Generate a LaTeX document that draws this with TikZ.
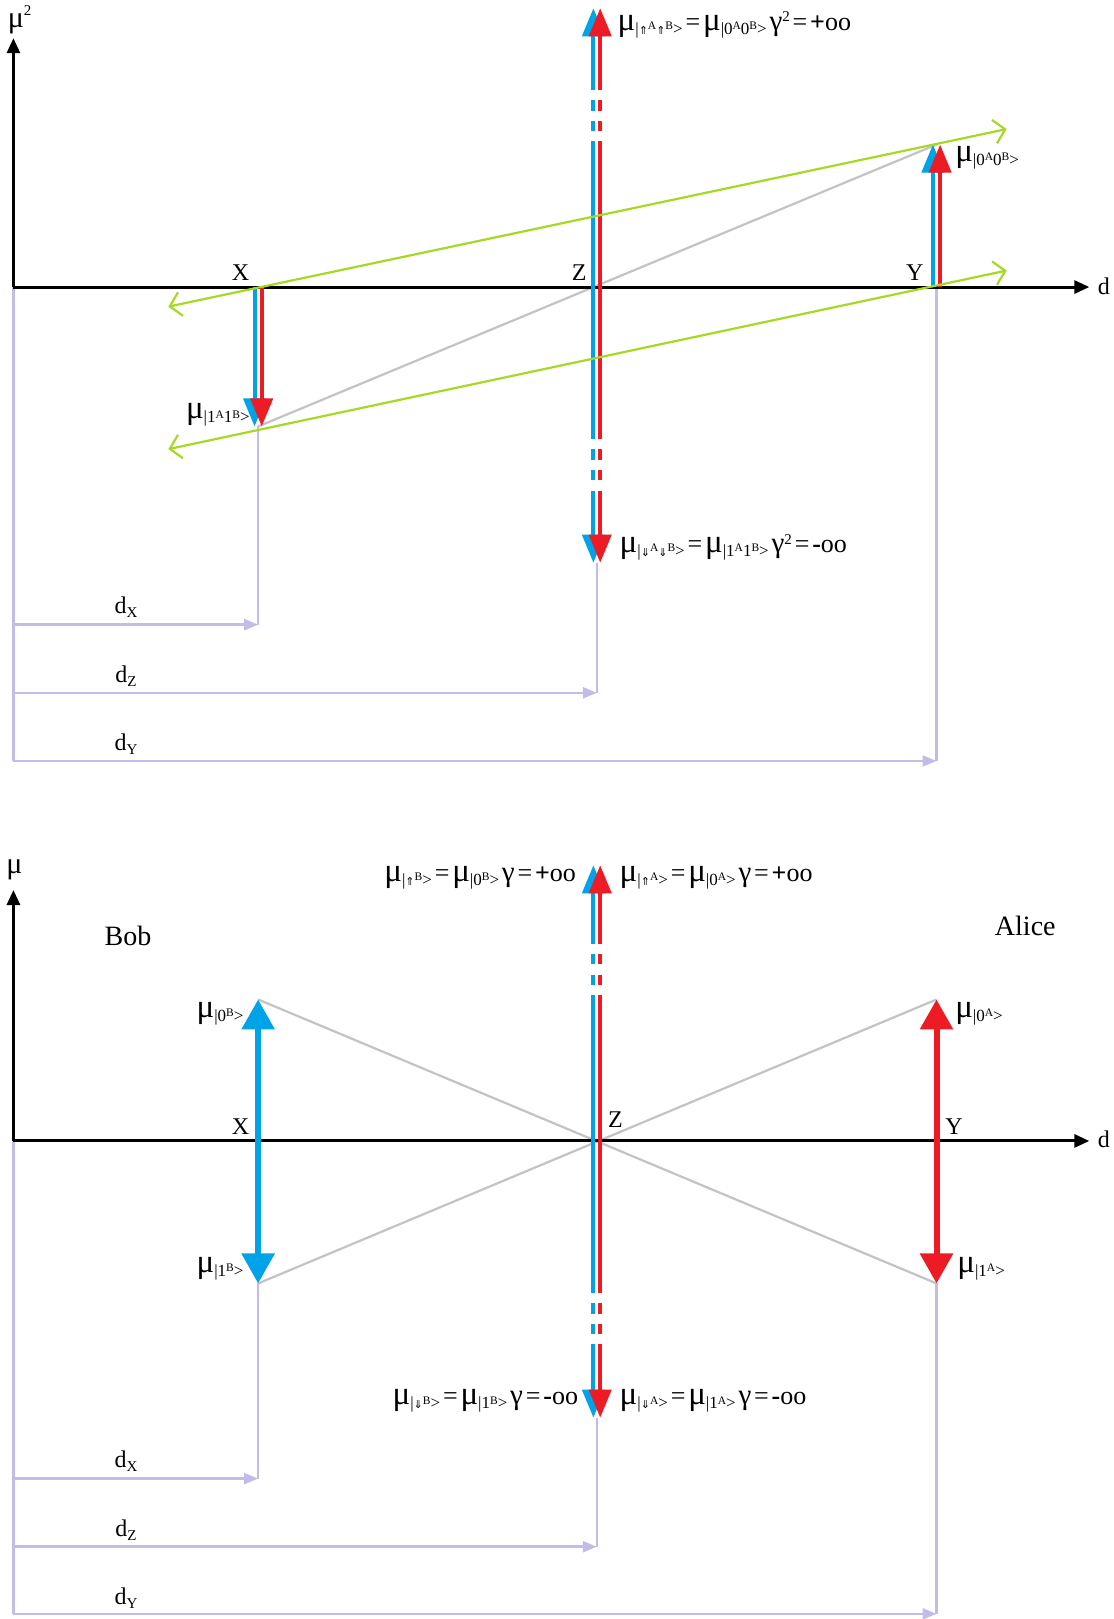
\documentclass[tikz,border=0pt]{standalone}
\usepackage{fontspec}
\setmainfont{Liberation Serif}
\newfontfamily\arrowfont{DejaVu Sans}
\usetikzlibrary{arrows.meta}
\definecolor{cblue}{RGB}{0,162,232}
\definecolor{cred}{RGB}{237,28,36}
\definecolor{cgreen}{RGB}{166,216,36}
\definecolor{cgray}{RGB}{195,195,195}
\definecolor{clav}{RGB}{196,188,232}
\newcommand{\mmu}{{\fontsize{33}{33}\selectfont μ}}
\newcommand{\sbs}[1]{\raisebox{-0.5ex}{\fontsize{17}{17}\selectfont #1}}
\newcommand{\ssp}[1]{\raisebox{0.6ex}{\fontsize{11.5}{11.5}\selectfont #1}}
\newcommand{\bsp}[1]{\raisebox{1.1ex}{\fontsize{15}{15}\selectfont #1}}
\newcommand{\UA}{{\arrowfont\fontsize{11}{11}\selectfont ⇑}}
\newcommand{\DA}{{\arrowfont\fontsize{11}{11}\selectfont ⇓}}
\newcommand{\eqs}{\,{\fontsize{26}{26}\selectfont =}\,}
\newcommand{\gam}{{\fontsize{29}{29}\selectfont γ}}
\newcommand{\myinf}[1]{{\fontsize{26}{26}\selectfont\textbf{#1}oo}}
\begin{document}
\begin{tikzpicture}[x=1.0325pt,y=-1.0325pt,
  axisarr/.style={black,line width=3pt,-{Triangle[width=13pt,length=15pt]}},
  bluearr/.style={cblue,line width=4pt,-{Triangle[width=22pt,length=28pt]}},
  redarr/.style={cred,line width=4pt,-{Triangle[width=22pt,length=28pt]}},
  bluebig/.style={cblue,line width=6pt,{Triangle[width=32pt,length=30pt]}-{Triangle[width=32pt,length=30pt]}},
  redbig/.style={cred,line width=6pt,{Triangle[width=32pt,length=30pt]}-{Triangle[width=32pt,length=30pt]}},
  greenarr/.style={cgreen,line width=2.2pt,{Straight Barb[length=11pt,width=24pt]}-{Straight Barb[length=11pt,width=24pt]}},
  grayline/.style={cgray,line width=2.2pt},
  lavline/.style={clav,line width=2.5pt},
  lavarr/.style={clav,line width=2.5pt,-{Triangle[width=11pt,length=14pt]}},
  zup/.style={dash pattern=on 145.6pt off 10.3pt on 10.3pt off 10.3pt on 10.3pt off 10.3pt on 400pt},
  zdown/.style={dash pattern=on 152pt off 10.3pt on 10.3pt off 10.3pt on 10.3pt off 10.3pt on 400pt},
  lbl/.style={inner sep=0pt,font=\fontsize{24}{24}\selectfont},
  mlbl/.style={inner sep=0pt,font=\fontsize{17}{17}\selectfont}
]
\useasboundingbox (0,0) rectangle (1078,1568);

% ================= TOP DIAGRAM =================
\coordinate (O1) at (13,278);
\coordinate (YT1) at (13,37);
\coordinate (XT1) at (1055,278);
\coordinate (X1) at (250,278);
\coordinate (Z1) at (578,278);
\coordinate (Y1) at (907,278);
\coordinate (Xlow) at (250,413);
\coordinate (Yup) at (907,140);
\coordinate (Ztop) at (578,8);
\coordinate (Zbot) at (578,545);
\coordinate (dX1) at (250,605);
\coordinate (dZ1) at (578,671);
\coordinate (dY1) at (907,737);
\coordinate (dX1s) at (13,605);
\coordinate (dZ1s) at (13,671);
\coordinate (dY1s) at (13,737);
\coordinate (GUl) at (163,297);
\coordinate (GUr) at (975,125);
\coordinate (GLl) at (163,435);
\coordinate (GLr) at (975,262);

% lavender guides
\draw[lavline] (O1) -- (dY1s);
\draw[lavline] (Xlow) -- (dX1);
\draw[lavline] (Zbot) -- (dZ1);
\draw[lavline] (Y1) -- (dY1);
\draw[lavarr] (dX1s) -- (dX1);
\draw[lavarr] (dZ1s) -- (dZ1);
\draw[lavarr] (dY1s) -- (dY1);

% gray diagonal
\draw[grayline] (Xlow) -- (Yup);

% axes
\draw[axisarr] (O1) -- (YT1);
\draw[axisarr] (O1) -- (XT1);

% X arrows
\draw[bluearr] ([xshift=-3.6pt]X1) -- ([xshift=-3.6pt]Xlow);
\draw[redarr] ([xshift=3.6pt]X1) -- ([xshift=3.6pt]Xlow);
% Y arrows
\draw[bluearr] ([xshift=-3.6pt]Y1) -- ([xshift=-3.6pt]Yup);
\draw[redarr] ([xshift=3.6pt]Y1) -- ([xshift=3.6pt]Yup);
% Z arrows
\draw[bluearr,zup] ([xshift=-3.4pt]Z1) -- ([xshift=-3.4pt]Ztop);
\draw[redarr,zup] ([xshift=3.4pt]Z1) -- ([xshift=3.4pt]Ztop);
\draw[bluearr,zdown] ([xshift=-3.4pt]Z1) -- ([xshift=-3.4pt]Zbot);
\draw[redarr,zdown] ([xshift=3.4pt]Z1) -- ([xshift=3.4pt]Zbot);

% green
\draw[greenarr] (GUl) -- (GUr);
\draw[greenarr] (GLl) -- (GLr);

% labels
\node[lbl] (lmu2) at (19,19) {{\fontsize{30}{30}\selectfont μ}\bsp{2}};
\node[lbl] (ld1) at (1069,277) {d};
\node[lbl] (lX1) at (233,264) {X};
\node[lbl] (lZ1) at (561,264) {Z};
\node[lbl] (lY1) at (886,264) {Y};
\node[lbl] (ldX1) at (122,588) {d\raisebox{-0.4ex}{\fontsize{15}{15}\selectfont X}};
\node[lbl] (ldZ1) at (122,655) {d\raisebox{-0.4ex}{\fontsize{15}{15}\selectfont Z}};
\node[lbl] (ldY1) at (122,721) {d\raisebox{-0.4ex}{\fontsize{15}{15}\selectfont Y}};
\node[mlbl,anchor=west] (lzt1) at (598,24) {\mmu\sbs{|\UA\ssp{A}\UA\ssp{B}>}\eqs\mmu\sbs{|0\ssp{A}0\ssp{B}>}\,\gam\bsp{2}\eqs\myinf{+}};
\node[mlbl,anchor=west] (lzb1) at (600,530) {\mmu\sbs{|\DA\ssp{A}\DA\ssp{B}>}\eqs\mmu\sbs{|1\ssp{A}1\ssp{B}>}\,\gam\bsp{2}\eqs\myinf{-}};
\node[mlbl,anchor=west] (ly1) at (925,153) {\mmu\sbs{|0\ssp{A}0\ssp{B}>}};
\node[mlbl,anchor=east] (lx1) at (242,402) {\mmu\sbs{|1\ssp{A}1\ssp{B}>}};

% ================= BOTTOM DIAGRAM =================
\coordinate (O2) at (13,1105);
\coordinate (YT2) at (13,862);
\coordinate (XT2) at (1055,1105);
\coordinate (X2) at (250,1105);
\coordinate (Z2) at (578,1105);
\coordinate (Y2) at (907,1105);
\coordinate (Xup2) at (250,968);
\coordinate (Xdn2) at (250,1243);
\coordinate (Yup2) at (907,968);
\coordinate (Ydn2) at (907,1243);
\coordinate (Ztop2) at (578,838);
\coordinate (Zbot2) at (578,1373);
\coordinate (dX2) at (250,1432);
\coordinate (dZ2) at (578,1498);
\coordinate (dY2) at (907,1563);
\coordinate (dX2s) at (13,1432);
\coordinate (dZ2s) at (13,1498);
\coordinate (dY2s) at (13,1563);

\draw[lavline] (O2) -- (dY2s);
\draw[lavline] (Xdn2) -- (dX2);
\draw[lavline] (Zbot2) -- (dZ2);
\draw[lavline] (Ydn2) -- (dY2);
\draw[lavarr] (dX2s) -- (dX2);
\draw[lavarr] (dZ2s) -- (dZ2);
\draw[lavarr] (dY2s) -- (dY2);

\draw[grayline] (Xup2) -- (Ydn2);
\draw[grayline] (Xdn2) -- (Yup2);

\draw[axisarr] (O2) -- (YT2);
\draw[axisarr] (O2) -- (XT2);

\draw[bluebig] (Xdn2) -- (Xup2);
\draw[redbig] (Ydn2) -- (Yup2);

\draw[bluearr,zup] ([xshift=-3.4pt]Z2) -- ([xshift=-3.4pt]Ztop2);
\draw[redarr,zup] ([xshift=3.4pt]Z2) -- ([xshift=3.4pt]Ztop2);
\draw[bluearr,zdown] ([xshift=-3.4pt]Z2) -- ([xshift=-3.4pt]Zbot2);
\draw[redarr,zdown] ([xshift=3.4pt]Z2) -- ([xshift=3.4pt]Zbot2);

\node[lbl] (lmu) at (14,842) {{\fontsize{30}{30}\selectfont μ}};
\node[lbl] (ld2) at (1069,1103) {d};
\node[lbl] (lX2) at (233,1091) {X};
\node[lbl] (lZ2) at (596,1084) {Z};
\node[lbl] (lY2) at (924,1091) {Y};
\node[lbl,font=\fontsize{28}{28}\selectfont] (lbob) at (124,906) {Bob};
\node[lbl,font=\fontsize{28}{28}\selectfont] (lalice) at (993,897) {Alice};
\node[lbl] (ldX2) at (122,1415) {d\raisebox{-0.4ex}{\fontsize{15}{15}\selectfont X}};
\node[lbl] (ldZ2) at (122,1482) {d\raisebox{-0.4ex}{\fontsize{15}{15}\selectfont Z}};
\node[lbl] (ldY2) at (122,1548) {d\raisebox{-0.4ex}{\fontsize{15}{15}\selectfont Y}};

\node[mlbl,anchor=east] (lzl2) at (558,850) {\mmu\sbs{|\UA\ssp{B}>}\eqs\mmu\sbs{|0\ssp{B}>}\,\gam\eqs\myinf{+}};
\node[mlbl,anchor=west] (lzr2) at (600,850) {\mmu\sbs{|\UA\ssp{A}>}\eqs\mmu\sbs{|0\ssp{A}>}\,\gam\eqs\myinf{+}};
\node[mlbl,anchor=east] (lzl2b) at (560,1357) {\mmu\sbs{|\DA\ssp{B}>}\eqs\mmu\sbs{|1\ssp{B}>}\,\gam\eqs\myinf{-}};
\node[mlbl,anchor=west] (lzr2b) at (600,1357) {\mmu\sbs{|\DA\ssp{A}>}\eqs\mmu\sbs{|1\ssp{A}>}\,\gam\eqs\myinf{-}};
\node[mlbl,anchor=east] (l0b) at (236,982) {\mmu\sbs{|0\ssp{B}>}};
\node[mlbl,anchor=west] (l0a) at (925,982) {\mmu\sbs{|0\ssp{A}>}};
\node[mlbl,anchor=east] (l1b) at (236,1229) {\mmu\sbs{|1\ssp{B}>}};
\node[mlbl,anchor=west] (l1a) at (927,1229) {\mmu\sbs{|1\ssp{A}>}};
\end{tikzpicture}
\end{document}
